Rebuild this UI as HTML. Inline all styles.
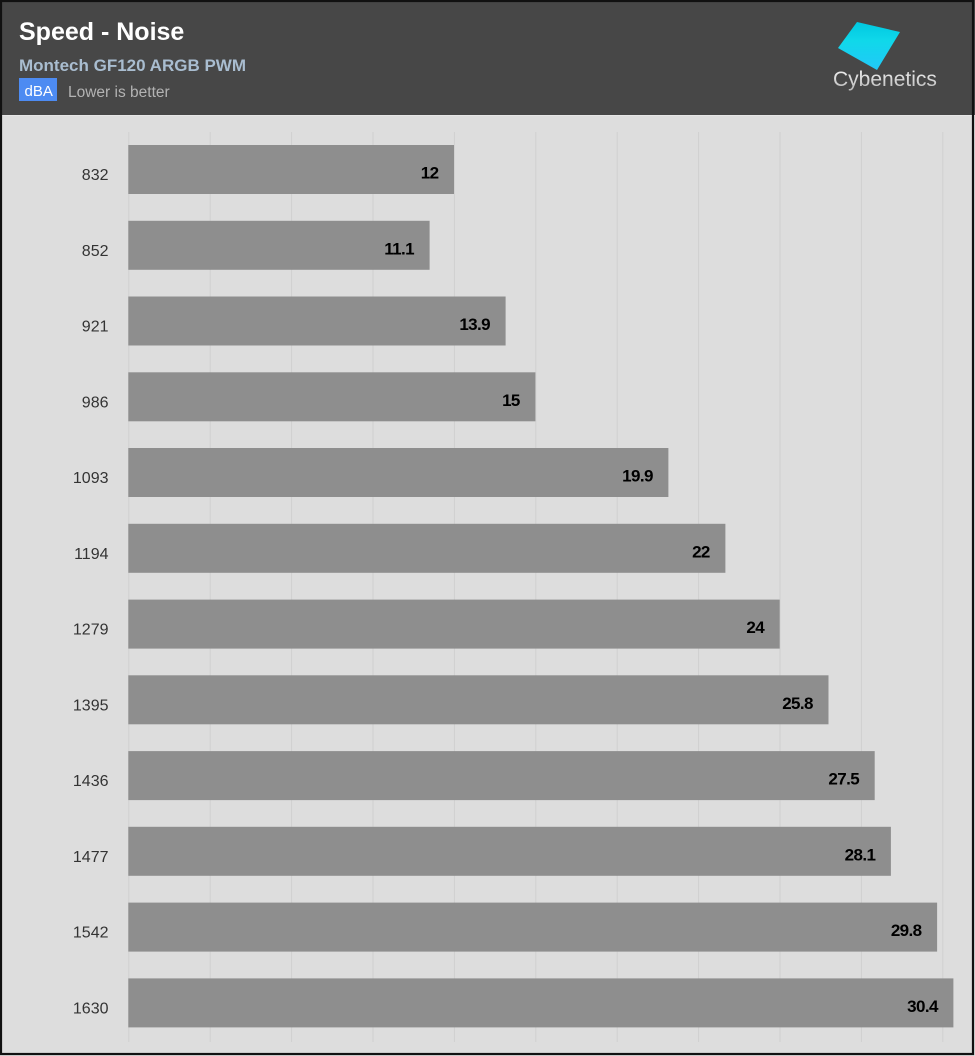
<!DOCTYPE html>
<html><head><meta charset="utf-8"><style>
html,body{margin:0;padding:0;background:#dddddd;}
svg{display:block;}
</style></head><body>
<svg width="975" height="1056" viewBox="0 0 975 1056" xmlns="http://www.w3.org/2000/svg" font-family="Liberation Sans, sans-serif">
<defs>
<linearGradient id="lg" x1="0" y1="0" x2="0" y2="1">
<stop offset="0" stop-color="#00c8e0"/>
<stop offset="0.4" stop-color="#10d8ea"/>
<stop offset="1" stop-color="#22c8f8"/>
</linearGradient>
<linearGradient id="tg" x1="0" y1="0" x2="0" y2="1">
<stop offset="0" stop-color="#f4f4f4"/>
<stop offset="1" stop-color="#b8b8b8"/>
</linearGradient>
</defs>
<rect x="0" y="0" width="975" height="1056" fill="#dddddd"/>
<rect x="0" y="0" width="975" height="115" fill="#474747"/>
<line x1="0" y1="115.5" x2="975" y2="115.5" stroke="#e6e6e6" stroke-width="1"/>
<text x="19" y="40" font-size="25" font-weight="bold" fill="#ffffff">Speed - Noise</text>
<text x="19" y="71" font-size="17" font-weight="bold" fill="#a9bdd0">Montech GF120 ARGB PWM</text>
<rect x="19" y="78" width="38" height="23" fill="#4d8bf2"/>
<text x="24.5" y="96" font-size="15" fill="#ffffff">dBA</text>
<text x="68" y="97" font-size="15.5" fill="#b3b3b3">Lower is better</text>
<polygon points="857,22 900,32 877,70 838,48" fill="url(#lg)"/>
<text x="833" y="86" font-size="21" fill="url(#tg)">Cybenetics</text>
<g stroke="#d0d0d0" stroke-width="1">
<line x1="128.8" y1="132" x2="128.8" y2="1042"/>
<line x1="210.2" y1="132" x2="210.2" y2="1042"/>
<line x1="291.6" y1="132" x2="291.6" y2="1042"/>
<line x1="373" y1="132" x2="373" y2="1042"/>
<line x1="454.4" y1="132" x2="454.4" y2="1042"/>
<line x1="535.8" y1="132" x2="535.8" y2="1042"/>
<line x1="617.2" y1="132" x2="617.2" y2="1042"/>
<line x1="698.6" y1="132" x2="698.6" y2="1042"/>
<line x1="780" y1="132" x2="780" y2="1042"/>
<line x1="861.4" y1="132" x2="861.4" y2="1042"/>
<line x1="942.8" y1="132" x2="942.8" y2="1042"/>
</g>
<g fill="#8e8e8e">
<rect x="128.3" y="145" width="325.7" height="49"/>
<rect x="128.3" y="220.8" width="301.3" height="49"/>
<rect x="128.3" y="296.5" width="377.3" height="49"/>
<rect x="128.3" y="372.3" width="407.1" height="49"/>
<rect x="128.3" y="448" width="540.1" height="49"/>
<rect x="128.3" y="523.8" width="597.1" height="49"/>
<rect x="128.3" y="599.6" width="651.4" height="49"/>
<rect x="128.3" y="675.3" width="700.2" height="49"/>
<rect x="128.3" y="751.1" width="746.4" height="49"/>
<rect x="128.3" y="826.8" width="762.6" height="49"/>
<rect x="128.3" y="902.6" width="808.8" height="49"/>
<rect x="128.3" y="978.4" width="825.1" height="49"/>
</g>
<g font-size="16" fill="#333333" text-anchor="end">
<text x="108.5" y="180">832</text>
<text x="108.5" y="255.8">852</text>
<text x="108.5" y="331.5">921</text>
<text x="108.5" y="407.3">986</text>
<text x="108.5" y="483">1093</text>
<text x="108.5" y="558.8">1194</text>
<text x="108.5" y="634.6">1279</text>
<text x="108.5" y="710.3">1395</text>
<text x="108.5" y="786.1">1436</text>
<text x="108.5" y="861.8">1477</text>
<text x="108.5" y="937.6">1542</text>
<text x="108.5" y="1013.4">1630</text>
</g>
<g font-size="17" font-weight="bold" fill="#000000" text-anchor="end" letter-spacing="-0.6">
<text x="438.5" y="178.5">12</text>
<text x="414" y="254.3">11.1</text>
<text x="490" y="330">13.9</text>
<text x="519.8" y="405.8">15</text>
<text x="652.8" y="481.5">19.9</text>
<text x="709.8" y="557.3">22</text>
<text x="764.1" y="633.1">24</text>
<text x="812.9" y="708.8">25.8</text>
<text x="859.1" y="784.6">27.5</text>
<text x="875.3" y="860.3">28.1</text>
<text x="921.5" y="936.1">29.8</text>
<text x="937.8" y="1011.9">30.4</text>
</g>
<rect x="1" y="1" width="972" height="1053" fill="none" stroke="#111111" stroke-width="2.2"/>
</svg>
</body></html>
